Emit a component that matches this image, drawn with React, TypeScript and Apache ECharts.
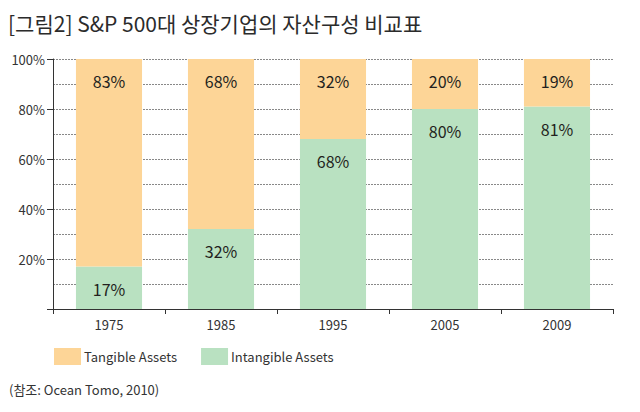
import React, { useEffect, useRef } from "react";
import * as echarts from "echarts";

const categories = ["1975", "1985", "1995", "2005", "2009"];
const tangible = [83, 68, 32, 20, 19];
const intangible = [17, 32, 68, 80, 81];
const seriesNames = ["Tangible Assets", "Intangible Assets"];
const titleText = "[그림2] S&P 500대 상장기업의 자산구성 비교표";
const sourceText = "(참조: Ocean Tomo, 2010)";

const ORANGE = "#FDD597";
const GREEN = "#B9E1C1";
const FONT = "'Noto Sans CJK KR', 'Noto Sans', sans-serif";

export default function App() {
  const ref = useRef<HTMLDivElement>(null);
  useEffect(() => {
    if (!ref.current) return;
    const chart = echarts.init(ref.current, null, { renderer: "svg" });
    const labelCfg = {
      show: true,
      position: "insideTop",
      distance: 14,
      formatter: (p: any) => p.value + "%",
      color: "#231f20",
      fontSize: 16,
      fontFamily: FONT,
    };
    chart.setOption({
      animation: false,
      textStyle: { fontFamily: FONT },
      graphic: [
        {
          type: "text",
          left: 0,
          top: 3,
          style: {
            text: titleText,
            fontSize: 21,
            fill: "#2b2b2b",
            fontFamily: FONT,
            lineHeight: 24,
          },
        },
        {
          type: "text",
          left: 1,
          top: 375,
          style: { text: sourceText, fontSize: 13, fill: "#333", fontFamily: FONT },
        },
      ],
      legend: {
        left: 46,
        top: 340,
        padding: 0,
        itemWidth: 27,
        itemHeight: 17,
        itemGap: 24,
        icon: "rect",
        data: seriesNames,
        textStyle: { fontSize: 13, color: "#333", fontFamily: FONT, padding: [0, 0, 0, -2] },
      },
      grid: { left: 45, right: 19, top: 51, bottom: 95 },
      xAxis: {
        type: "category",
        data: categories,
        axisLine: { lineStyle: { color: "#333", width: 1 } },
        axisTick: { show: true, length: 5, lineStyle: { color: "#333" } },
        axisLabel: { color: "#333", fontSize: 13, margin: 9, fontFamily: FONT },
      },
      yAxis: {
        type: "value",
        min: 0,
        max: 100,
        interval: 20,
        axisLine: { show: true, lineStyle: { color: "#333", width: 1 } },
        axisTick: { show: true, length: 6, lineStyle: { color: "#333" } },
        axisLabel: {
          color: "#333",
          fontSize: 13,
          margin: 8,
          fontFamily: FONT,
          formatter: (v: number) => (v === 0 ? "" : v + "%"),
        },
        splitLine: { show: true, lineStyle: { color: "#888", type: [2, 1], width: 1 } },
        minorTick: { show: false, splitNumber: 2 },
        minorSplitLine: { show: true, lineStyle: { color: "#888", type: [2, 1], width: 1 } },
      },
      series: [
        {
          name: seriesNames[1],
          type: "bar",
          stack: "a",
          data: intangible,
          barWidth: "59%",
          itemStyle: { color: GREEN },
          label: labelCfg,
          z: 3,
        },
        {
          name: seriesNames[0],
          type: "bar",
          stack: "a",
          data: tangible,
          barWidth: "59%",
          itemStyle: { color: ORANGE },
          label: labelCfg,
          z: 3,
        },
      ],
    });
    return () => chart.dispose();
  }, []);
  return <div ref={ref} style={{ width: 624, height: 396 }} />;
}
